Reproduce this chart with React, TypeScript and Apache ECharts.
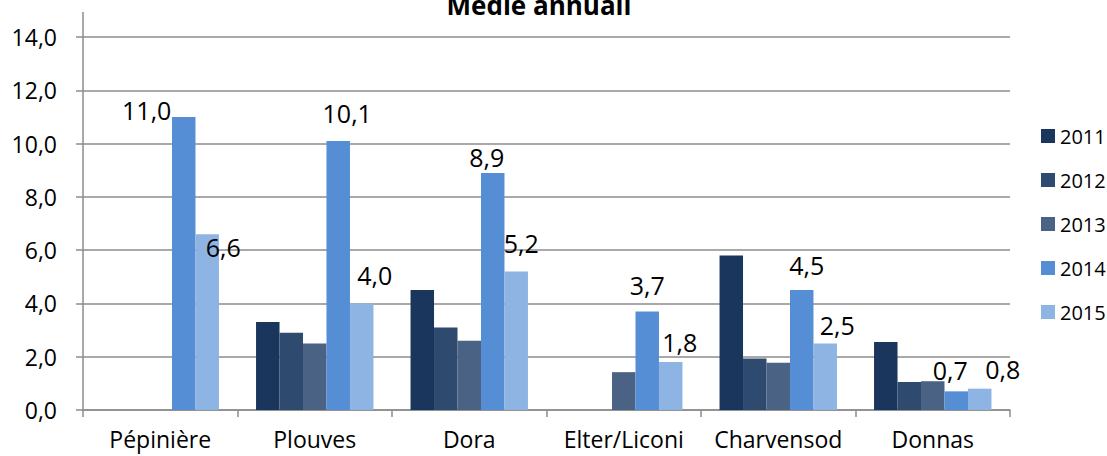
import React, { useEffect, useRef } from "react";
import * as echarts from "echarts";

const categories = ["Pépinière", "Plouves", "Dora", "Elter/Liconi", "Charvensod", "Donnas"];
const years = ["2011", "2012", "2013", "2014", "2015"];
const v2011 = [null, 3.3, 4.5, null, 5.8, 2.55];
const v2012 = [null, 2.9, 3.1, null, 1.93, 1.05];
const v2013 = [null, 2.5, 2.6, 1.42, 1.77, 1.08];
const v2014 = [11.0, 10.1, 8.9, 3.7, 4.5, 0.7];
const v2015 = [6.6, 4.0, 5.2, 1.8, 2.5, 0.8];
const yTicks = { min: 0, max: 14, interval: 2 };

const colors = ["#1b365c", "#2f4a6f", "#4a6283", "#558ed5", "#8eb4e3"];
// label nudges (style only)
const off2014 = [[-37, 11], [9, -10], [-6, 2], [0, -9], [5, -8], [-6, -4]];
const off2015 = [[16, 30], [13, -11], [5, -11], [9, -3], [12, -1], [23, -2]];

const FONT = "'Open Sans', 'Noto Sans', sans-serif";

export default function App() {
  const ref = useRef<HTMLDivElement>(null);
  useEffect(() => {
    if (!ref.current) return;
    const chart = echarts.init(ref.current, null, { renderer: "svg" });
    const all = [v2011, v2012, v2013, v2014, v2015];
    const fmt = (v: number) => v.toFixed(1).replace(".", ",");
    const series = all.map((vals, i) => {
      const labeled = i >= 3;
      const offs = i === 3 ? off2014 : off2015;
      return {
        name: years[i],
        type: "bar",
        barGap: "0%",
        barCategoryGap: "24%",
        itemStyle: { color: colors[i] },
        data: vals.map((v, j) =>
          labeled && v != null
            ? {
                value: v,
                label: {
                  show: true,
                  position: "top",
                  offset: offs[j],
                  formatter: () => fmt(v as number),
                  fontFamily: FONT,
                  fontSize: 25,
                  color: "#000",
                },
              }
            : v
        ),
      };
    });
    chart.setOption({
      animation: false,
      backgroundColor: "#fff",
      textStyle: { fontFamily: FONT },
      graphic: [
        {
          type: "text",
          x: 539,
          y: 5,
          style: {
            text: "Medie annuali",
            font: `bold 26px ${FONT}`,
            fill: "#000",
            textAlign: "center",
            textVerticalAlign: "middle",
          },
        },
        {
          type: "line",
          shape: { x1: 83, y1: 12, x2: 83, y2: 37 },
          style: { stroke: "#8c8c8c", lineWidth: 1.5 },
        },
      ],
      legend: {
        orient: "vertical",
        left: 1036,
        top: 121,
        itemWidth: 14,
        itemHeight: 14,
        itemGap: 24,
        icon: "rect",
        data: years,
        textStyle: { fontFamily: FONT, fontSize: 20, color: "#000" },
      },
      grid: { left: 83, right: 97, top: 37, bottom: 46, containLabel: false },
      xAxis: {
        type: "category",
        data: categories,
        axisLine: { lineStyle: { color: "#8c8c8c", width: 1.5 } },
        axisTick: { show: true, length: 7, lineStyle: { color: "#8c8c8c", width: 1.5 } },
        axisLabel: {
          interval: 0,
          fontFamily: FONT,
          fontSize: 23,
          lineHeight: 24,
          color: "#000",
          margin: 17,
        },
      },
      yAxis: {
        type: "value",
        min: yTicks.min,
        max: yTicks.max,
        interval: yTicks.interval,
        axisLine: { show: true, lineStyle: { color: "#8c8c8c", width: 1.5 } },
        axisTick: { show: true, length: 7, lineStyle: { color: "#8c8c8c", width: 1.5 } },
        splitLine: { lineStyle: { color: "#8c8c8c", width: 1.5 } },
        axisLabel: {
          fontFamily: FONT,
          fontSize: 23,
          color: "#000",
          margin: 26,
          formatter: (v: number) => fmt(v),
        },
      },
      series,
    });
    return () => chart.dispose();
  }, []);
  return (
    <div
      ref={ref}
      style={{ position: "fixed", left: 0, top: 0, width: 1107, height: 456 }}
    />
  );
}
